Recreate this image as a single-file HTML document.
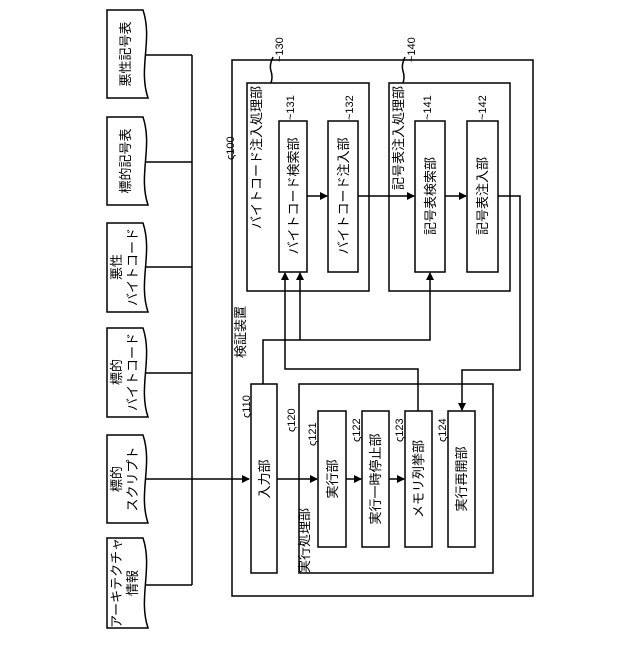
<!DOCTYPE html>
<html><head><meta charset="utf-8"><style>html,body{margin:0;padding:0;background:#fff}</style></head>
<body>
<svg width="640" height="640" viewBox="0 0 640 640" xmlns="http://www.w3.org/2000/svg" font-family="'Liberation Sans','Noto Sans CJK JP',sans-serif" font-size="13" fill="#000">
<defs><marker id="a" markerWidth="8" markerHeight="8" refX="7" refY="4" orient="auto" markerUnits="userSpaceOnUse"><path d="M0,0 L8,4 L0,8 Z" fill="#000"/></marker></defs>
<g fill="none" stroke="#000" stroke-width="1.5">
<path d="M107,10 H143 C153,40 138,68 148,98 H107 Z"/>
<path d="M107,117 H143 C153,147 138,175 148,205 H107 Z"/>
<path d="M107,223 H143 C153,253 138,282 148,312 H107 Z"/>
<path d="M107,328 H143 C153,358 138,387 148,417 H107 Z"/>
<path d="M107,435 H143 C153,465 138,493 148,523 H107 Z"/>
<path d="M107,538 H143 C153,568 138,598 148,628 H107 Z"/>
<path d="M192,55 V585"/>
<path d="M146,55 H192 M145,162 H192 M145,267 H192 M145,373 H192 M145,585 H192"/>
<path d="M145,479 H249" marker-end="url(#a)"/>
<rect x="232" y="60" width="301" height="536"/>
<rect x="247" y="83" width="122" height="208"/>
<rect x="279" y="121" width="28" height="151"/>
<rect x="328" y="121" width="30" height="151"/>
<rect x="389" y="83" width="121" height="208"/>
<rect x="415" y="121" width="30" height="151"/>
<rect x="467" y="121" width="31" height="151"/>
<rect x="251" y="384" width="26" height="189"/>
<rect x="299" y="384" width="194" height="189"/>
<rect x="318" y="411" width="28" height="136"/>
<rect x="362" y="411" width="27" height="136"/>
<rect x="405" y="411" width="27" height="136"/>
<rect x="448" y="411" width="27" height="136"/>
<path d="M307,196 H327" marker-end="url(#a)"/>
<path d="M358,196 H414" marker-end="url(#a)"/>
<path d="M445,196 H466" marker-end="url(#a)"/>
<path d="M498,196 H520 V370 H462 V410" marker-end="url(#a)"/>
<path d="M277,479 H317" marker-end="url(#a)"/>
<path d="M346,479 H361" marker-end="url(#a)"/>
<path d="M389,479 H404" marker-end="url(#a)"/>
<path d="M263,384 V340 H430 V273" marker-end="url(#a)"/>
<path d="M300,340 V273" marker-end="url(#a)"/>
<path d="M418,411 V369 H285 V273" marker-end="url(#a)"/>
<path d="M271,83 q2,-6 0,-12 q-2,-6 2,-14"/>
<path d="M403,83 q2,-6 0,-12 q-2,-6 2,-14"/>
</g>
<g>
<text transform="translate(130,54) rotate(-90)" text-anchor="middle">悪性記号表</text>
<text transform="translate(130,161) rotate(-90)" text-anchor="middle">標的記号表</text>
<text transform="translate(121,267) rotate(-90)" text-anchor="middle">悪性</text>
<text transform="translate(137,267) rotate(-90)" text-anchor="middle">バイトコード</text>
<text transform="translate(121,372) rotate(-90)" text-anchor="middle">標的</text>
<text transform="translate(137,372) rotate(-90)" text-anchor="middle">バイトコード</text>
<text transform="translate(121,479) rotate(-90)" text-anchor="middle">標的</text>
<text transform="translate(137,479) rotate(-90)" text-anchor="middle">スクリプト</text>
<text transform="translate(121,583) rotate(-90)" text-anchor="middle">アーキテクチャ</text>
<text transform="translate(137,583) rotate(-90)" text-anchor="middle">情報</text>
<text transform="translate(245,358) rotate(-90)">検証装置</text>
<text transform="translate(261,86) rotate(-90)" text-anchor="end">バイトコード注入処理部</text>
<text transform="translate(403,86) rotate(-90)" text-anchor="end">記号表注入処理部</text>
<text transform="translate(309,573) rotate(-90)">実行処理部</text>
<text transform="translate(298,196) rotate(-90)" text-anchor="middle">バイトコード検索部</text>
<text transform="translate(348,196) rotate(-90)" text-anchor="middle">バイトコード注入部</text>
<text transform="translate(435,196) rotate(-90)" text-anchor="middle">記号表検索部</text>
<text transform="translate(487,196) rotate(-90)" text-anchor="middle">記号表注入部</text>
<text transform="translate(269,479) rotate(-90)" text-anchor="middle">入力部</text>
<text transform="translate(337,479) rotate(-90)" text-anchor="middle">実行部</text>
<text transform="translate(380,479) rotate(-90)" text-anchor="middle">実行一時停止部</text>
<text transform="translate(423,479) rotate(-90)" text-anchor="middle">メモリ列挙部</text>
<text transform="translate(466,479) rotate(-90)" text-anchor="middle">実行再開部</text>
</g>
<g font-size="11">
<text transform="translate(283,62) rotate(-90)">~130</text>
<text transform="translate(415,62) rotate(-90)">~140</text>
<text transform="translate(234,160) rotate(-90)">ς100</text>
<text transform="translate(294,120) rotate(-90)">~131</text>
<text transform="translate(353,120) rotate(-90)">~132</text>
<text transform="translate(431,120) rotate(-90)">~141</text>
<text transform="translate(486,120) rotate(-90)">~142</text>
<text transform="translate(250,418) rotate(-90)">ς110</text>
<text transform="translate(295,432) rotate(-90)">ς120</text>
<text transform="translate(316,446) rotate(-90)">ς121</text>
<text transform="translate(360,442) rotate(-90)">ς122</text>
<text transform="translate(403,442) rotate(-90)">ς123</text>
<text transform="translate(446,442) rotate(-90)">ς124</text>
</g>
</svg>
</body></html>
